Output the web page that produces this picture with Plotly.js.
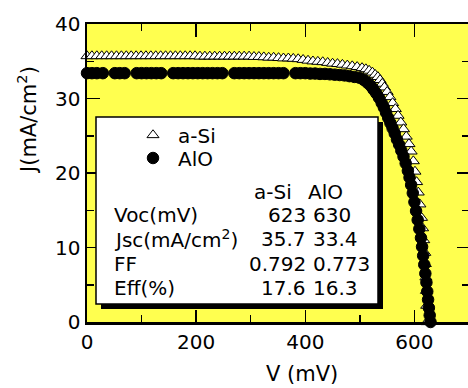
<!DOCTYPE html>
<html><head><meta charset="utf-8">
<script src="https://cdn.plot.ly/plotly-3.0.1.min.js"></script>
<style>html,body{margin:0;padding:0;overflow:hidden;background:#fff}#chart{width:469px;height:388px}</style>
</head><body><div id="chart"></div>
<script>
// a-Si passivation J-V data (V in mV, J in mA/cm2)
const aSiV = [0,9,18,27,36,45,54,63,72,81,90,99,108,117,126,135,144,153,162,171,180,189,198,
  207,216,225,234,243,252,261,270,279,288,297,
  306,315,324,333,342,351,360,369,378,387,396,
  405,414,423,432,441,450,459,468,477,486,495,
  504,511,517,523,528,533,537,541,545,550,555,560,565,570,575,580,585,590,594,598,601,604,607,610,613,615,617,619,620,621,622,622.5,623];
const aSiJ = [35.7,35.7,35.7,35.7,35.7,35.7,35.7,35.7,35.7,35.7,35.7,35.7,35.7,35.7,35.7,35.7,35.7,35.7,35.7,35.7,35.7,35.7,35.7,
  35.65,35.65,35.65,35.65,35.65,35.65,35.65,35.65,35.65,35.65,35.65,
  35.6,35.6,35.55,35.5,35.5,35.45,35.4,35.4,35.35,35.3,35.2,
  35.1,35.0,34.95,34.9,34.8,34.7,34.65,34.55,34.45,34.35,34.25,
  34.1,33.95,33.75,33.5,33.2,32.9,32.5,32.0,31.5,30.9,30.2,29.4,28.6,27.7,26.8,25.9,24.9,23.9,22.9,21.6,20.2,18.8,17.4,15.8,14.0,12.6,11.0,9.3,7.8,6.0,4.2,2.2,0];
// AlO passivation J-V data
const alOV = [0,9,18,29,51,60,69,91,100,109,118,127,136,
  158,167,176,185,194,203,212,221,230,239,248,
  270,279,288,297,306,315,324,333,342,351,360,
  382,391,400,409,418,427,436,445,454,463,472,481,490,499,
  507,514,520,525,530,535,540,544,548,552,556,560,564,568,572,576,580,584,588,591,594,597,600,603,606,609,612,614,616,618,620,622,623.5,625,626.5,628,629.5];
const alOJ = [33.4,33.4,33.4,33.4,33.4,33.4,33.4,33.4,33.4,33.4,33.4,33.4,33.4,
  33.4,33.4,33.4,33.4,33.4,33.4,33.4,33.4,33.4,33.4,33.4,
  33.4,33.4,33.4,33.4,33.4,33.4,33.4,33.4,33.4,33.4,33.4,
  33.4,33.4,33.4,33.35,33.35,33.3,33.3,33.25,33.2,33.15,33.1,33.0,32.9,32.8,
  32.5,32.1,31.7,31.2,30.7,30.1,29.4,28.8,28.1,27.4,26.7,26.0,25.3,24.5,23.8,23.0,22.2,21.3,20.3,19.4,18.4,17.3,16.1,14.9,13.7,12.5,11.3,10.1,8.9,7.7,6.5,5.3,4.1,3.0,1.9,0.9,0];

const seriesNames = ['a-Si','AlO'];
const xTickVals = [0,200,400,600];
const yTickVals = [0,10,20,30,40];
const rowLabels = ['Voc(mV)','Jsc(mA/cm<sup>2</sup>)','FF','Eff(%)'];
const aSiParams = ['623','35.7','0.792','17.6'];
const alOParams = ['630','33.4','0.773','16.3'];

const FONT = 'DejaVu Sans, Verdana, sans-serif';
const L = 87, R = 469, T = 24, B = 322;
const fx = p => (p - L) / (R - L);
const fy = p => (B - p) / (B - T);

const traces = [
  {x: aSiV, y: aSiJ, name: seriesNames[0], type: 'scatter', mode: 'markers', cliponaxis: false,
   legend: 'legend',
   marker: {symbol: 'triangle-up', size: 10.5, color: '#ffffff', line: {color: '#000000', width: 1}}},
  {x: alOV, y: alOJ, name: seriesNames[1], type: 'scatter', mode: 'markers', cliponaxis: false,
   legend: 'legend2',
   marker: {symbol: 'circle', size: 11.5, color: '#000000', line: {color: '#000000', width: 1}}}
];

const rowY = [215, 239, 264, 288];
const ann = [];
const tf = {family: FONT, size: 20, color: '#000'};
function A(text, px, py, xa, extra) {
  ann.push(Object.assign({text: text, xref: 'paper', yref: 'paper', x: fx(px), y: fy(py),
    xanchor: xa, yanchor: 'middle', showarrow: false, font: tf, borderpad: 0}, extra || {}));
}
A(seriesNames[0], 293, 192, 'right');
A(seriesNames[1], 307, 192, 'left');
rowLabels.forEach((t, i) => {
  A(t, 113, rowY[i], 'left');
  A(aSiParams[i], 307, rowY[i], 'right');
  A(alOParams[i], 312, rowY[i], 'left');
});
// axis titles
A('V (mV)', 302, 374, 'center', {font: {family: FONT, size: 21, color: '#000'}});
A('J(mA/cm<sup>2</sup>)', 27, 120, 'center', {textangle: -90, font: {family: FONT, size: 21, color: '#000'}});

const axBase = {
  showline: true, linecolor: '#000', linewidth: 2.5, mirror: 'allticks',
  ticks: 'inside', ticklen: 12.5, tickwidth: 1.5, tickcolor: '#000',
  showgrid: false, zeroline: false, fixedrange: true,
  tickfont: {family: FONT, size: 20, color: '#000'}
};

const layout = {
  width: 469, height: 388,
  margin: {l: L, r: 469 - R, t: T, b: 388 - B, pad: 0},
  paper_bgcolor: '#ffffff', plot_bgcolor: '#ffff4f',
  xaxis: Object.assign({}, axBase, {range: [0, 700], tickmode: 'array', tickvals: xTickVals,
    minor: {dtick: 100, tick0: 0, ticks: 'inside', ticklen: 7, tickwidth: 1.5, tickcolor: '#000', showgrid: false}}),
  yaxis: Object.assign({}, axBase, {range: [0, 40], tickmode: 'array', tickvals: yTickVals,
    minor: {dtick: 5, tick0: 0, ticks: 'inside', ticklen: 7, tickwidth: 1.5, tickcolor: '#000', showgrid: false}}),
  showlegend: true,
  legend: {x: fx(128), y: fy(135), xanchor: 'left', yanchor: 'middle', bgcolor: 'rgba(0,0,0,0)',
    font: {family: FONT, size: 20, color: '#000'}, borderwidth: 0, itemwidth: 40},
  legend2: {x: fx(128), y: fy(158), xanchor: 'left', yanchor: 'middle', bgcolor: 'rgba(0,0,0,0)',
    font: {family: FONT, size: 20, color: '#000'}, borderwidth: 0, itemwidth: 40},
  shapes: [
    {type: 'rect', xref: 'paper', yref: 'paper', x0: fx(101), x1: fx(383), y0: fy(122), y1: fy(309),
     fillcolor: '#000', line: {width: 0}, layer: 'above'},
    {type: 'rect', xref: 'paper', yref: 'paper', x0: fx(96), x1: fx(378), y0: fy(117), y1: fy(304),
     fillcolor: '#fff', line: {color: '#000', width: 1.5}, layer: 'above'}
  ],
  annotations: ann
};

Plotly.newPlot('chart', traces, layout, {displayModeBar: false, staticPlot: true});
</script></body></html>
